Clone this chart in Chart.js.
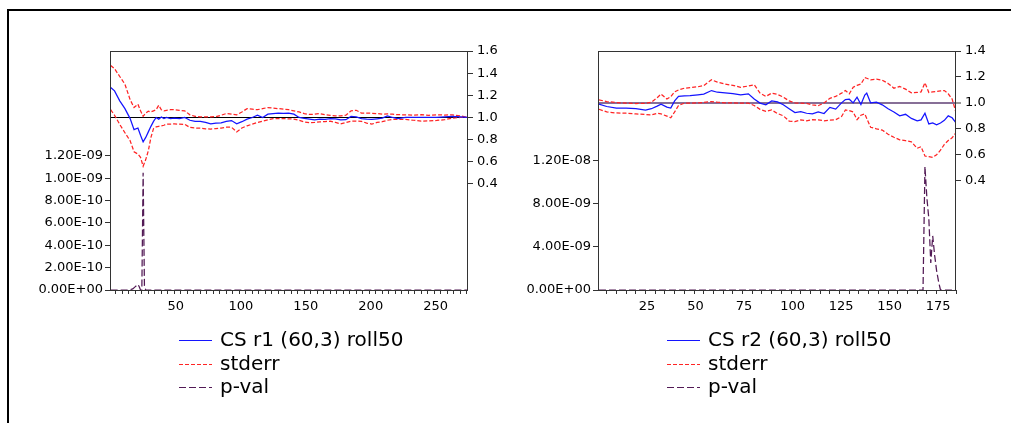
<!DOCTYPE html>
<html>
<head>
<meta charset="utf-8">
<script src="https://cdn.jsdelivr.net/npm/chart.js@4.4.1/dist/chart.umd.min.js"></script>
<style>
  html, body { margin: 0; padding: 0; background: #fff; }
  body { width: 1011px; height: 423px; position: relative; overflow: hidden; }
  .frame { position: absolute; left: 7px; top: 9px; width: 1100px; height: 500px;
           border-top: 2px solid #000; border-left: 2px solid #000; }
  canvas { position: absolute; top: 0; }
  #c1 { left: 0; }
  #c2 { left: 488px; }
</style>
</head>
<body>
<div class="frame"></div>
<canvas id="c1" width="505" height="423"></canvas>
<canvas id="c2" width="523" height="423"></canvas>
<script>
// ---- panel 1: CS r1 (60,3) roll50 ----
const r1Obs = [1,4,8,12,16,19,22,24,26,28,30,32,34,36,38,40,42,44,47,50,54,58,62,66,70,74,78,82,86,90,
  94,98,102,106,110,114,118,122,126,130,134,138,142,146,150,154,158,162,166,170,174,178,182,186,190,194,
  198,202,206,210,214,218,222,228,234,240,246,252,258,264,270,276];
const r1Cs = [1.27,1.24,1.15,1.08,0.99,0.89,0.905,0.84,0.78,0.82,0.87,0.92,0.965,1.00,0.985,1.005,0.99,1.0,0.99,0.995,
  0.99,1.0,0.975,0.965,0.964,0.955,0.943,0.948,0.952,0.965,0.972,0.943,0.962,0.985,1.0,1.02,1.0,1.03,1.035,1.04,
  1.038,1.04,1.03,1.0,0.992,0.985,0.978,0.985,0.982,0.99,0.988,0.978,0.98,1.01,1.005,0.99,0.985,0.982,0.988,0.995,
  1.015,1.0,0.99,1.0,1.0,1.0,1.0,1.0,1.005,1.01,1.005,1.0];
const r1Upper = [1.47,1.44,1.37,1.30,1.16,1.09,1.12,1.06,1.01,1.04,1.057,1.05,1.06,1.07,1.11,1.07,1.06,1.065,1.07,1.07,
  1.065,1.06,1.024,1.01,1.006,1.005,1.006,1.008,1.02,1.036,1.03,1.024,1.05,1.08,1.075,1.07,1.08,1.09,1.085,1.08,
  1.075,1.07,1.06,1.05,1.035,1.027,1.03,1.035,1.025,1.02,1.015,1.015,1.02,1.06,1.065,1.04,1.04,1.038,1.035,1.03,
  1.032,1.03,1.025,1.024,1.022,1.025,1.02,1.024,1.022,1.024,1.015,1.0];
const r1Lower = [1.07,1.02,0.937,0.862,0.79,0.69,0.67,0.64,0.56,0.62,0.70,0.82,0.90,0.915,0.92,0.925,0.93,0.94,0.94,0.942,
  0.94,0.938,0.91,0.905,0.904,0.898,0.895,0.9,0.905,0.912,0.912,0.87,0.905,0.925,0.94,0.955,0.967,0.978,0.99,0.99,
  0.99,0.988,0.985,0.975,0.96,0.952,0.955,0.961,0.962,0.967,0.955,0.943,0.955,0.967,0.968,0.965,0.95,0.94,0.955,0.962,
  0.975,0.982,0.982,0.982,0.975,0.967,0.97,0.973,0.98,0.994,1.0,1.0];
const r1PObs = [1,15,18,20,22,23,24,25,26,27,28,276];
const r1PVal = [0,0,0.01e-9,0.03e-9,0.05e-9,0.03e-9,0,0,1.05e-9,0.03e-9,0,0];
const r1XLabels = [50,100,150,200,250];
const r1PTicks = [0,2e-10,4e-10,6e-10,8e-10,1e-9,1.2e-9];
const r1VTicks = [0.4,0.6,0.8,1.0,1.2,1.4,1.6];

// ---- panel 2: CS r2 (60,3) roll50 ----
const r2Obs = [1,5,10,15,20,25,28,31,33,36,38,40,42,45,48,52,55,59,62,66,70,74,78,81,84,87,90,93,96,99,
  102,105,108,111,114,117,120,123,126,128,130,132,134,136,138,139,141,144,147,150,153,156,159,162,165,167,
  169,171,173,175,177,179,181,183,185];
const r2Cs = [0.99,0.972,0.96,0.96,0.955,0.945,0.955,0.975,0.99,0.967,0.96,1.015,1.05,1.054,1.055,1.062,1.068,1.095,1.082,1.078,
  1.072,1.062,1.07,1.03,0.998,0.985,1.015,1.008,0.985,0.955,0.925,0.932,0.92,0.915,0.93,0.918,0.965,0.952,1.0,1.025,
  1.028,1.0,1.044,0.988,1.06,1.075,1.0,1.005,0.985,0.955,0.93,0.9,0.912,0.88,0.862,0.869,0.92,0.838,0.846,0.83,
  0.845,0.865,0.9,0.885,0.846];
const r2Upper = [1.023,1.01,1.003,0.998,0.995,0.997,1.005,1.04,1.068,1.03,1.048,1.085,1.1,1.113,1.118,1.124,1.133,1.178,1.16,1.145,
  1.135,1.12,1.13,1.14,1.075,1.05,1.075,1.065,1.045,1.015,1.0,0.998,0.996,0.985,0.978,1.0,1.035,1.05,1.075,1.095,
  1.07,1.12,1.135,1.145,1.195,1.19,1.178,1.183,1.175,1.15,1.113,1.126,1.106,1.078,1.08,1.085,1.155,1.08,1.085,1.087,
  1.092,1.095,1.07,1.03,0.925];
const r2Lower = [0.951,0.93,0.922,0.92,0.915,0.91,0.907,0.92,0.915,0.898,0.885,0.93,0.98,0.998,0.998,1.0,1.003,1.01,1.005,1.0,
  1.0,0.998,0.998,0.98,0.95,0.935,0.945,0.918,0.9,0.86,0.855,0.869,0.862,0.87,0.868,0.862,0.867,0.87,0.895,0.945,
  0.94,0.93,0.87,0.905,0.915,0.88,0.812,0.8,0.79,0.758,0.735,0.715,0.708,0.7,0.65,0.662,0.59,0.585,0.58,0.6,
  0.635,0.68,0.71,0.73,0.77];
const r2PObs = [1,168,169,170,171,172,173,174,175,176,177,185];
const r2PVal = [0,0,11.4e-9,8.5e-9,6.6e-9,2.5e-9,5.0e-9,3.2e-9,1.8e-9,0.8e-9,0,0];
const r2XLabels = [25,50,75,100,125,150,175];
const r2PTicks = [0,4e-9,8e-9,1.2e-8];
const r2VTicks = [0.4,0.6,0.8,1.0,1.2,1.4];

const FONT = '"DejaVu Sans", sans-serif';
const BLUE = '#1414ff', RED = '#ff2424', PURPLE = '#521a55', AXIS = '#333';
const LW = 1.25;

function pts(xs, ys) { return xs.map((x, i) => ({ x: x, y: ys[i] })); }
function range(a, b, step) { const out = []; for (let v = a; v <= b; v += step) out.push(v); return out; }
function sci(v) {
  if (v === 0) return '0.00E+00';
  const [m, e] = v.toExponential(2).split('e');
  const n = parseInt(e, 10);
  return m + 'E' + (n < 0 ? '-' : '+') + String(Math.abs(n)).padStart(2, '0');
}

// box around the plot area
const plotBox = {
  id: 'plotBox',
  afterDatasetsDraw(chart) {
    const a = chart.chartArea, ctx = chart.ctx;
    ctx.save();
    ctx.strokeStyle = AXIS;
    ctx.lineWidth = 1;
    ctx.strokeRect(a.left + 0.5, a.top + 0.5, a.right - a.left - 1, a.bottom - a.top);
    ctx.restore();
  }
};

// stacked legend under the plot, eviews style
const legendRows = {
  id: 'legendRows',
  afterDraw(chart) {
    const ctx = chart.ctx, a = chart.chartArea;
    const items = chart.data.datasets.filter(d => d.inLegend !== false);
    const x0 = Math.round((a.left + a.right) / 2 - 110);
    const rowY = [50, 74, 97];
    ctx.save();
    ctx.font = '20px ' + FONT;
    ctx.textBaseline = 'middle';
    items.forEach((d, i) => {
      const y = a.bottom + rowY[i];
      ctx.strokeStyle = d.borderColor;
      ctx.lineWidth = 1;
      ctx.setLineDash(d.borderDash || []);
      ctx.beginPath();
      ctx.moveTo(x0, y + 0.5);
      ctx.lineTo(x0 + 33, y + 0.5);
      ctx.stroke();
      ctx.setLineDash([]);
      ctx.fillStyle = '#000';
      ctx.fillText(d.label, x0 + 41, y + 1);
    });
    ctx.restore();
  }
};

function panel(id, s) {
  const tickFont = { family: FONT, size: 13 };
  return new Chart(document.getElementById(id), {
    type: 'line',
    data: {
      datasets: [
        { label: s.name, data: pts(s.obs, s.cs), borderColor: BLUE, borderWidth: LW, yAxisID: 'yV' },
        { label: 'stderr', data: pts(s.obs, s.up), borderColor: RED, borderWidth: LW, borderDash: [4, 2], yAxisID: 'yV' },
        { label: 'stderr', data: pts(s.obs, s.lo), borderColor: RED, borderWidth: LW, borderDash: [4, 2], yAxisID: 'yV', inLegend: false },
        { label: 'p-val', data: pts(s.pObs, s.pVal), borderColor: PURPLE, borderWidth: LW, borderDash: [7, 3], yAxisID: 'yP' }
      ]
    },
    options: {
      responsive: false,
      animation: false,
      devicePixelRatio: 1,
      elements: { point: { radius: 0 }, line: { tension: 0 } },
      layout: { padding: { top: 51, bottom: 103, left: 0, right: 0 } },
      plugins: { legend: { display: false }, tooltip: { enabled: false } },
      scales: {
        x: {
          type: 'linear', min: 0.5, max: s.xMax,
          border: { display: false },
          grid: { drawOnChartArea: false, tickLength: 4, tickColor: AXIS, tickWidth: 1 },
          ticks: {
            autoSkip: false, maxRotation: 0, padding: 5, labelOffset: 1.5, color: '#000', font: tickFont,
            callback: v => s.xLabels.includes(v) ? String(v) : ''
          },
          afterBuildTicks: sc => { sc.ticks = range(5, s.xMax, 5).map(v => ({ value: v })); },
          afterFit: sc => { sc.height = 30; }
        },
        yP: {
          position: 'left', min: 0, max: s.pMax,
          border: { display: false },
          grid: { drawOnChartArea: false, tickLength: 5, tickColor: AXIS, tickWidth: 1 },
          ticks: { padding: 2, color: '#000', font: tickFont, callback: v => sci(v) },
          afterBuildTicks: sc => { sc.ticks = s.pTicks.map(v => ({ value: v })); },
          afterFit: sc => { sc.width = 110; }
        },
        yV: {
          position: 'right', min: s.vMin, max: s.vMax,
          border: { display: false },
          grid: {
            drawOnChartArea: true, tickLength: 5, tickColor: AXIS, tickWidth: 1,
            color: c => (c.tick && Math.abs(c.tick.value - 1) < 1e-9) ? s.refColor : 'rgba(0,0,0,0)',
            lineWidth: c => (c.tick && Math.abs(c.tick.value - 1) < 1e-9) ? s.refWidth : 1
          },
          ticks: { padding: 4, color: '#000', font: tickFont, callback: v => v.toFixed(1) },
          afterBuildTicks: sc => { sc.ticks = s.vTicks.map(v => ({ value: v })); },
          afterFit: sc => { sc.width = s.rightWidth; }
        }
      }
    },
    plugins: [plotBox, legendRows]
  });
}

panel('c1', {
  name: 'CS r1 (60,3) roll50', obs: r1Obs, cs: r1Cs, up: r1Upper, lo: r1Lower,
  pObs: r1PObs, pVal: r1PVal, xMax: 276, xLabels: r1XLabels,
  pTicks: r1PTicks, pMax: 2.14e-9, vTicks: r1VTicks, vMin: -0.557, vMax: 1.6,
  refColor: '#000', refWidth: 1, rightWidth: 37
});
panel('c2', {
  name: 'CS r2 (60,3) roll50', obs: r2Obs, cs: r2Cs, up: r2Upper, lo: r2Lower,
  pObs: r2PObs, pVal: r2PVal, xMax: 185, xLabels: r2XLabels,
  pTicks: r2PTicks, pMax: 2.21e-8, vTicks: r2VTicks, vMin: -0.443, vMax: 1.4,
  refColor: 'rgba(105,75,125,0.8)', refWidth: 2, rightWidth: 55
});
</script>
</body>
</html>
